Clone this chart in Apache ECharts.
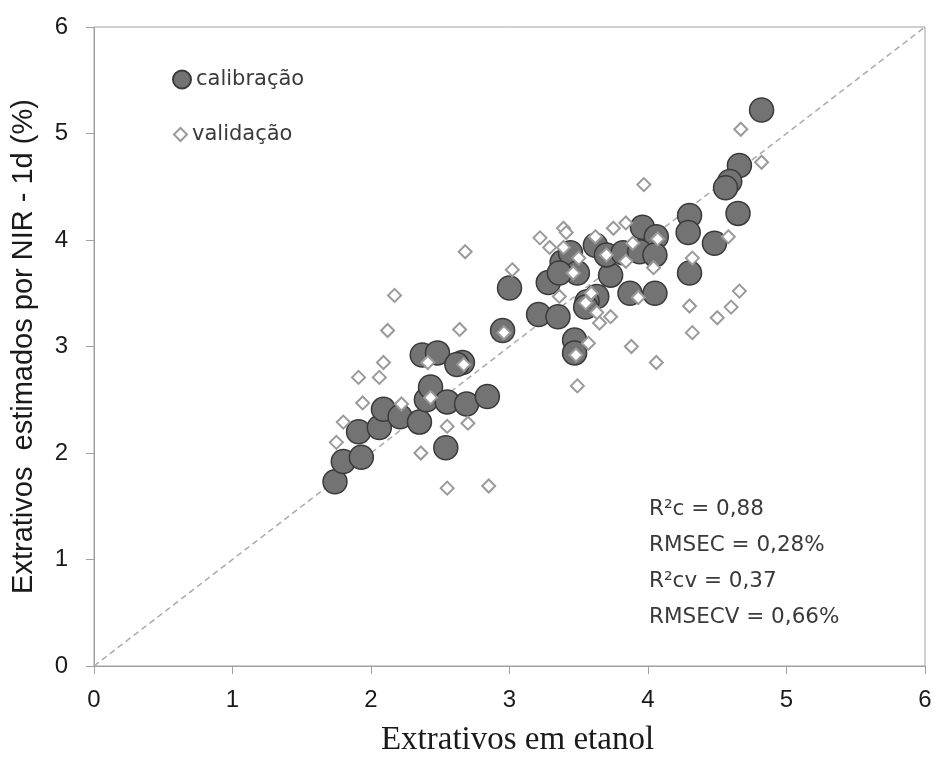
<!DOCTYPE html>
<html>
<head>
<meta charset="utf-8">
<script src="https://cdn.jsdelivr.net/npm/echarts@6/dist/echarts.min.js"></script>
<style>
  html, body { margin: 0; padding: 0; background: #fff; }
  #chart { width: 933px; height: 761px; }
</style>
</head>
<body>
<div id="chart"></div>
<script>
// calibração (circles)
var calibX = [1.74, 1.80, 1.93, 1.91, 2.06, 2.09, 2.21, 2.35, 2.40, 2.43, 2.55, 2.69, 2.84, 2.54,
  2.37, 2.48, 2.66, 2.62, 2.95, 3.21, 3.00, 3.28, 3.35, 3.38, 3.44, 3.49, 3.36, 3.62, 3.73,
  3.63, 3.56, 3.55, 3.70, 3.82, 3.96, 4.06, 3.94, 4.05, 3.87, 4.05, 3.47, 3.47, 4.30, 4.29,
  4.48, 4.30, 4.65, 4.82, 4.66, 4.59, 4.56];
var calibY = [1.73, 1.92, 1.96, 2.20, 2.24, 2.41, 2.34, 2.29, 2.50, 2.62, 2.48, 2.46, 2.53, 2.05,
  2.92, 2.94, 2.85, 2.83, 3.15, 3.30, 3.55, 3.60, 3.28, 3.79, 3.88, 3.69, 3.69, 3.95, 3.67,
  3.47, 3.42, 3.37, 3.86, 3.88, 4.12, 4.03, 3.89, 3.86, 3.50, 3.50, 3.06, 2.94, 4.23, 4.07,
  3.97, 3.69, 4.25, 5.22, 4.70, 4.55, 4.49];

// validação (diamonds)
var validX = [2.12, 2.64, 2.41, 2.09, 2.06, 1.91, 1.94, 2.22, 2.43, 1.80, 2.55, 2.70, 1.75, 2.36,
  2.55, 2.85, 2.67, 2.96, 2.68, 2.17, 3.02, 3.22, 3.29, 3.39, 3.41, 3.39, 3.50, 3.46, 3.62,
  3.75, 3.84, 3.70, 3.89, 3.84, 4.07, 4.04, 3.36, 3.59, 3.55, 3.63, 3.65, 3.73, 3.93, 3.57,
  3.48, 3.88, 4.06, 3.49, 4.32, 4.67, 4.82, 4.58, 4.32, 4.66, 4.60, 4.30, 4.50, 3.97];
var validY = [3.15, 3.16, 2.85, 2.85, 2.71, 2.71, 2.47, 2.46, 2.52, 2.29, 2.25, 2.28, 2.10, 2.00,
  1.67, 1.69, 2.83, 3.13, 3.89, 3.48, 3.72, 4.02, 3.93, 4.11, 4.07, 3.93, 3.83, 3.69, 4.03,
  4.11, 4.16, 3.86, 3.97, 3.80, 4.01, 3.74, 3.47, 3.50, 3.41, 3.32, 3.22, 3.28, 3.46, 3.03,
  2.92, 3.00, 2.85, 2.63, 3.13, 5.04, 4.73, 4.03, 3.83, 3.52, 3.37, 3.38, 3.27, 4.52];

var axisTicks = [0, 1, 2, 3, 4, 5, 6];
var statLines = ['R\u00b2c = 0,88', 'RMSEC = 0,28%', 'R\u00b2cv = 0,37', 'RMSECV = 0,66%'];

function pairs(xs, ys) {
  return xs.map(function (x, i) { return [x, ys[i]]; });
}

var chart = echarts.init(document.getElementById('chart'));

var legendText = { fontFamily: 'DejaVu Sans', fontSize: 21, color: '#3a3a3a' };

var option = {
  animation: false,
  backgroundColor: '#fff',
  grid: {
    left: 94,
    right: 8,
    top: 27,
    bottom: 95,
    outerBoundsMode: 'none',
    show: true,
    borderColor: '#a0a0a0',
    borderWidth: 1
  },
  legend: [
    {
      left: 172,
      top: 69,
      padding: 0,
      itemWidth: 18,
      itemHeight: 18,
      textStyle: legendText,
      data: ['calibração']
    },
    {
      left: 173,
      top: 124,
      padding: 0,
      itemWidth: 13,
      itemHeight: 13,
      textStyle: legendText,
      data: ['validação']
    }
  ],
  xAxis: {
    type: 'value',
    min: axisTicks[0],
    max: axisTicks[axisTicks.length - 1],
    interval: 1,
    name: 'Extrativos em etanol',
    nameLocation: 'middle',
    nameGap: 58,
    nameTextStyle: { fontFamily: 'Liberation Serif', fontSize: 33, color: '#1a1a1a', padding: [0, 0, 0, 16] },
    axisLine: { lineStyle: { color: '#a0a0a0' } },
    axisTick: { show: true, inside: false, length: 8, lineStyle: { color: '#a0a0a0' } },
    axisLabel: { fontFamily: 'Liberation Sans', fontSize: 24, color: '#1a1a1a', margin: 22 },
    splitLine: { show: false }
  },
  yAxis: {
    type: 'value',
    min: axisTicks[0],
    max: axisTicks[axisTicks.length - 1],
    interval: 1,
    name: 'Extrativos  estimados por NIR - 1d (%)',
    nameLocation: 'middle',
    nameGap: 56,
    nameTextStyle: { fontFamily: 'Liberation Sans', fontSize: 29, color: '#1a1a1a' },
    axisLine: { lineStyle: { color: '#a0a0a0' } },
    axisTick: { show: true, inside: false, length: 8, lineStyle: { color: '#a0a0a0' } },
    axisLabel: { fontFamily: 'Liberation Sans', fontSize: 24, color: '#1a1a1a', margin: 26 },
    splitLine: { show: false }
  },
  series: [
    {
      name: 'identidade',
      type: 'line',
      data: [[0, 0], [6, 6]],
      symbol: 'none',
      silent: true,
      lineStyle: { color: '#aaaaaa', width: 1.5, type: [6, 4] },
      z: 1
    },
    {
      name: 'calibração',
      type: 'scatter',
      data: pairs(calibX, calibY),
      symbol: 'circle',
      symbolSize: 24,
      itemStyle: { color: '#737373', borderColor: '#3a3a3a', borderWidth: 1.5, opacity: 1 },
      z: 2
    },
    {
      name: 'validação',
      type: 'scatter',
      data: pairs(validX, validY),
      symbol: 'diamond',
      symbolSize: [13, 13],
      itemStyle: { color: '#ffffff', borderColor: '#9a9a9a', borderWidth: 2, opacity: 1 },
      z: 3
    }
  ],
  graphic: statLines.map(function (t, i) {
    return {
      type: 'text',
      left: 649,
      top: 498 + i * 36.3,
      style: { text: t, fontFamily: 'DejaVu Sans', fontSize: 21.5, fill: '#3a3a3a' }
    };
  })
};

chart.setOption(option);
window.addEventListener('resize', function () { chart.resize(); });
</script>
</body>
</html>
